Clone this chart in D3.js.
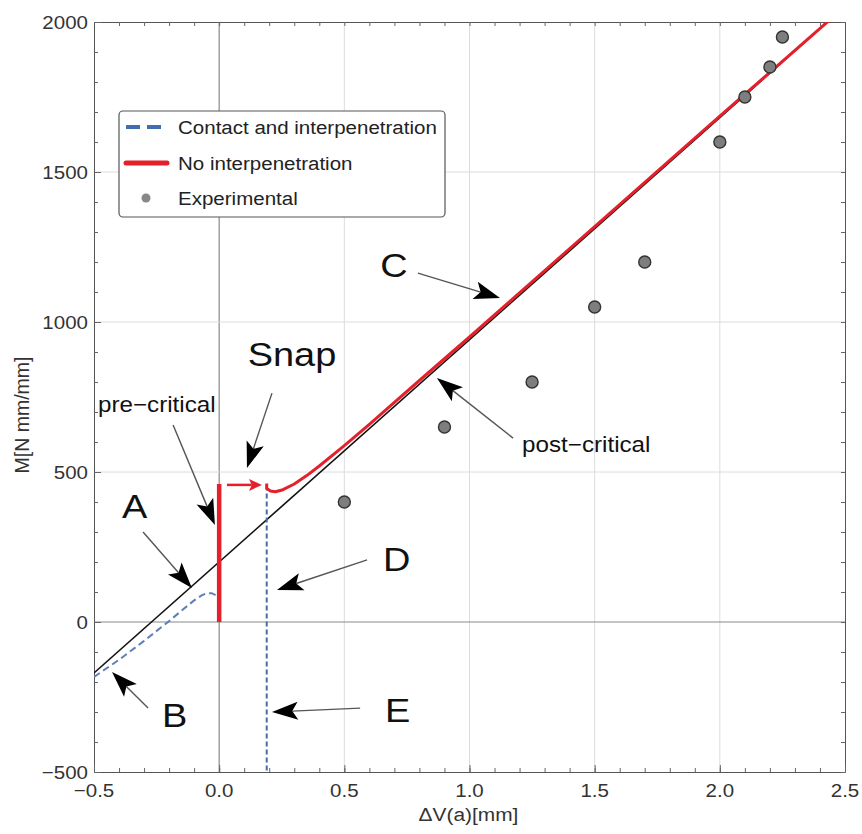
<!DOCTYPE html>
<html><head><meta charset="utf-8">
<script src="https://cdn.jsdelivr.net/npm/d3@7"></script>
<style>body{margin:0;background:#fff}svg{display:block}text{font-family:"Liberation Sans",Arial,sans-serif}</style>
</head><body>
<svg id="c" width="862" height="834"></svg>
<script>
// ---- data ----
const xTicks = [-0.5, 0.0, 0.5, 1.0, 1.5, 2.0, 2.5];
const yTicks = [-500, 0, 500, 1000, 1500, 2000];
const linearLine = [[-0.5, -170], [2.43, 2000]];
const redVertical = [[0, 0], [0, 460]];
const redCurve = [[0.19, 462], [0.19, 445], [0.205, 437], [0.225, 434], [0.255, 441], [0.3, 460], [0.35, 488], [0.4, 520], [0.5, 588], [0.6, 659], [0.7, 732], [0.8, 805], [1.0, 950], [1.5, 1318], [2.0, 1686], [2.45, 2015]];
const blueCurve = [[-0.5, -183], [-0.4, -126], [-0.3, -63], [-0.2, 3], [-0.15, 38], [-0.1, 72], [-0.07, 89], [-0.05, 96], [-0.03, 96], [-0.01, 88], [0, 80]];
const blueVertical = [[0.19, 455], [0.19, -500]];
const expX = [0.5, 0.9, 1.25, 1.5, 1.7, 2.0, 2.1, 2.2, 2.25];
const expM = [400, 650, 800, 1050, 1200, 1600, 1750, 1850, 1950];
const legendLabels = ["Contact and interpenetration", "No interpenetration", "Experimental"];
const annLabels = ["Snap", "pre−critical", "A", "B", "C", "post−critical", "D", "E"];
const xTitle = "ΔV(a)[mm]";
const yTitle = "M[N mm/mm]";

// ---- layout ----
const svg = d3.select("#c");
const x = d3.scaleLinear().domain([-0.5, 2.5]).range([94, 845]);
const y = d3.scaleLinear().domain([-500, 2000]).range([772, 22]);
const [x0, x1] = x.range(), [y0, y1] = y.range();

svg.append("clipPath").attr("id", "pc").append("rect")
  .attr("x", x0).attr("y", y1).attr("width", x1 - x0).attr("height", y0 - y1);

// text helper with slight horizontal stretch (as in the reference)
function label(g, tx, ty, str, size, sx, anchor, fill, rot) {
  return g.append("text")
    .attr("transform", `translate(${tx},${ty})${rot ? " rotate(" + rot + ")" : ""} scale(${sx},1)`)
    .attr("text-anchor", anchor).attr("font-size", size).attr("fill", fill).text(str);
}

// grid
const grid = svg.append("g");
grid.selectAll(".gx").data(xTicks.slice(1, -1)).join("line")
  .attr("x1", d => x(d)).attr("x2", d => x(d)).attr("y1", y0).attr("y2", y1)
  .attr("stroke", d => d === 0 ? "#8a8a8a" : "#dcdcdc").attr("stroke-width", d => d === 0 ? 1.2 : 1);
grid.selectAll(".gy").data(yTicks.slice(1, -1)).join("line")
  .attr("y1", d => y(d)).attr("y2", d => y(d)).attr("x1", x0).attr("x2", x1)
  .attr("stroke", d => d === 0 ? "#8a8a8a" : "#dcdcdc").attr("stroke-width", d => d === 0 ? 1.2 : 1);

// frame with inward ticks
const minorX = d3.range(-5, 26).map(i => i / 10);
const minorY = d3.range(-5, 21).map(i => i * 100);
const mk = (ax, sc, vals) => ax(sc).tickValues(vals).tickSizeInner(-4).tickSizeOuter(0).tickFormat("");
const gB = svg.append("g").attr("transform", `translate(0,${y0})`).call(mk(d3.axisBottom, x, minorX));
const gT = svg.append("g").attr("transform", `translate(0,${y1})`).call(mk(d3.axisTop, x, minorX));
const gL = svg.append("g").attr("transform", `translate(${x0},0)`).call(mk(d3.axisLeft, y, minorY));
const gR = svg.append("g").attr("transform", `translate(${x1},0)`).call(mk(d3.axisRight, y, minorY));
[gB, gT, gL, gR].forEach(g => { g.selectAll("path,line").attr("stroke", "#666"); g.select(".domain").attr("stroke", "#555"); });

// major ticks + labels
const fx = d3.format(".1f"), fy = d3.format("d");
const gMajB = svg.append("g").attr("transform", `translate(0,${y0})`)
  .call(d3.axisBottom(x).tickValues(xTicks).tickSize(-7).tickFormat(""));
const gMajL = svg.append("g").attr("transform", `translate(${x0},0)`)
  .call(d3.axisLeft(y).tickValues(yTicks).tickSize(-7).tickFormat(""));
[gMajB, gMajL].forEach(g => { g.select(".domain").remove(); g.selectAll("line").attr("stroke", "#666"); });
const tl = svg.append("g");
xTicks.forEach(v => label(tl, x(v), y0 + 25, fx(v), 19, 1.08, "middle", "#333"));
yTicks.forEach(v => label(tl, x0 - 6, y(v) + 7, fy(v), 19, 1.08, "end", "#333"));

label(svg, (x0 + x1) / 2 - 1, 821, xTitle, 19, 1.1, "middle", "#333");
label(svg, 29, (y0 + y1) / 2 + 18, yTitle, 19.5, 1.0, "middle", "#333", -90);

// data marks
const plot = svg.append("g").attr("clip-path", "url(#pc)");
const line = d3.line().x(d => x(d[0])).y(d => y(d[1]));
plot.append("path").attr("d", line(linearLine)).attr("fill", "none").attr("stroke", "#111").attr("stroke-width", 1.6);
plot.append("path").attr("d", line(blueCurve)).attr("fill", "none").attr("stroke", "#5f7fb8").attr("stroke-width", 2).attr("stroke-dasharray", "7,4");
plot.append("path").attr("d", line(blueVertical)).attr("fill", "none").attr("stroke", "#4a6aa8").attr("stroke-width", 2).attr("stroke-dasharray", "5,3");
plot.append("path").attr("d", line(redCurve)).attr("fill", "none").attr("stroke", "#e4202b").attr("stroke-width", 3).attr("stroke-linejoin", "round");
plot.append("path").attr("d", line(redVertical)).attr("fill", "none").attr("stroke", "#e4202b").attr("stroke-width", 4.5);
plot.selectAll("circle.exp").data(expX.map((v, i) => [v, expM[i]])).join("circle")
  .attr("cx", d => x(d[0])).attr("cy", d => y(d[1])).attr("r", 6)
  .attr("fill", "#7d7f7f").attr("stroke", "#333").attr("stroke-width", 1.4);

// annotations (positions in data units)
const ann = [
  {t: 0, tx: 0.291, ty: 853, size: 33, sx: 1.15, anchor: "middle", from: [0.211, 763], to: [0.111, 513]},
  {t: 1, tx: -0.484, ty: 700, size: 22, sx: 1.1, anchor: "start", from: [-0.184, 657], to: [-0.017, 323]},
  {t: 2, tx: -0.388, ty: 347, size: 33, sx: 1.15, anchor: "start", from: [-0.304, 300], to: [-0.109, 113]},
  {t: 3, tx: -0.228, ty: -350, size: 33, sx: 1.15, anchor: "start", from: [-0.284, -287], to: [-0.428, -167]},
  {t: 4, tx: 0.643, ty: 1150, size: 33, sx: 1.15, anchor: "start", from: [0.794, 1163], to: [1.122, 1080]},
  {t: 5, tx: 1.21, ty: 567, size: 22, sx: 1.1, anchor: "start", from: [1.174, 613], to: [0.87, 813]},
  {t: 6, tx: 0.654, ty: 170, size: 33, sx: 1.15, anchor: "start", from: [0.591, 207], to: [0.231, 107]},
  {t: 7, tx: 0.662, ty: -333, size: 33, sx: 1.15, anchor: "start", from: [0.563, -287], to: [0.211, -300]}
];
function arrow(g, p0, p1, color, headColor, lw, len, half) {
  const dx = p1[0] - p0[0], dy = p1[1] - p0[1], L = Math.hypot(dx, dy);
  const ux = dx / L, uy = dy / L, nx = -uy, ny = ux;
  const bx = p1[0] - ux * len, by = p1[1] - uy * len;
  const nxp = p1[0] - ux * len * 0.78, nyp = p1[1] - uy * len * 0.78;
  g.append("line").attr("x1", p0[0]).attr("y1", p0[1]).attr("x2", nxp).attr("y2", nyp)
    .attr("stroke", color).attr("stroke-width", lw);
  g.append("path").attr("d", `M${p1[0]},${p1[1]}L${bx + nx * half},${by + ny * half}L${nxp},${nyp}L${bx - nx * half},${by - ny * half}Z`)
    .attr("fill", headColor);
}
const ag = svg.append("g");
ann.forEach(a => {
  label(ag, x(a.tx), y(a.ty), annLabels[a.t], a.size, a.sx, a.anchor, "#111");
  arrow(ag, [x(a.from[0]), y(a.from[1])], [x(a.to[0]), y(a.to[1])], "#555", "#000", 1.4, 26, 9);
});
// red snap arrow
arrow(ag, [x(0.031), y(457)], [x(0.171), y(457)], "#e4202b", "#e4202b", 2.5, 13, 6);

// legend
const lg = svg.append("g");
lg.append("rect").attr("x", 119).attr("y", 111).attr("width", 326).attr("height", 106).attr("rx", 4)
  .attr("fill", "#fff").attr("stroke", "#555").attr("stroke-width", 1.2);
const rowsY = [127, 163, 198];
lg.append("line").attr("x1", 126).attr("x2", 167).attr("y1", rowsY[0]).attr("y2", rowsY[0])
  .attr("stroke", "#3f6fb0").attr("stroke-width", 4).attr("stroke-dasharray", "14,7");
lg.append("line").attr("x1", 126).attr("x2", 167).attr("y1", rowsY[1]).attr("y2", rowsY[1])
  .attr("stroke", "#e4202b").attr("stroke-width", 5).attr("stroke-linecap", "round");
lg.append("circle").attr("cx", 146).attr("cy", rowsY[2]).attr("r", 4.5).attr("fill", "#888");
legendLabels.forEach((t, i) => label(lg, 178, rowsY[i] + 7, t, 19, 1.08, "start", "#222"));
</script>
</body></html>
